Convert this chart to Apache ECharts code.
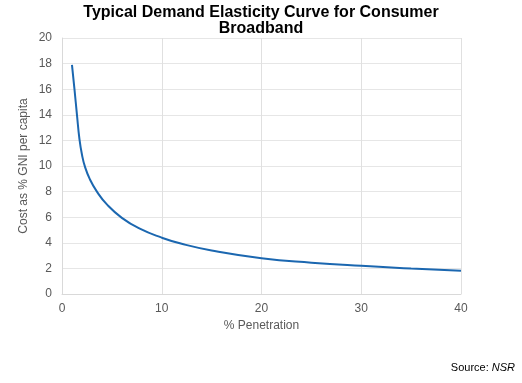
<!DOCTYPE html>
<html>
<head>
<meta charset="utf-8">
<script src="https://cdn.jsdelivr.net/npm/echarts@6/dist/echarts.min.js"></script>
<style>
html,body{margin:0;padding:0;background:#fff;}
#chart{width:522px;height:383px;}
</style>
</head>
<body>
<div id="chart"></div>
<script>
var penetration = [1, 1.25, 1.5, 1.75, 2, 2.3, 2.8, 3.5, 4.5, 6, 7.8, 10, 12, 15, 20, 25, 30, 35, 40];
var cost = [17.9, 16, 14, 12.1, 10.9, 9.95, 8.95, 8.0, 7.0, 5.95, 5.1, 4.4, 3.92, 3.4, 2.8, 2.45, 2.2, 2.0, 1.82];
var chartTitle = 'Typical Demand Elasticity Curve for Consumer\nBroadband';
var xName = '% Penetration';
var yName = 'Cost as % GNI per capita';

var font = '"Liberation Sans", Arial, sans-serif';
var data = penetration.map(function (x, i) { return [x, cost[i]]; });

var chart = echarts.init(document.getElementById('chart'), null, {renderer: 'canvas'});
chart.setOption({
  animation: false,
  backgroundColor: '#ffffff',
  title: [{
    text: chartTitle,
    left: 'center',
    top: 5,
    padding: 0,
    textStyle: {fontFamily: font, fontSize: 16, fontWeight: 'bold', color: '#000', lineHeight: 16}
  }, {
    text: '{a|Source: }{b|NSR}',
    right: 7,
    bottom: 10,
    padding: 0,
    textStyle: {
      rich: {
        a: {fontFamily: font, fontSize: 11, fontWeight: 'normal', color: '#000'},
        b: {fontFamily: font, fontSize: 11, fontWeight: 'normal', color: '#000', fontStyle: 'italic'}
      }
    }
  }],
  grid: {left: 62, right: 61, top: 38, bottom: 89, containLabel: false},
  xAxis: {
    type: 'value', min: 0, max: 40, interval: 10,
    name: xName, nameLocation: 'middle', nameGap: 26,
    nameMoveOverlap: false,
    nameTextStyle: {fontFamily: font, fontSize: 12, color: '#595959'},
    axisLine: {show: true, lineStyle: {color: '#d9d9d9'}},
    axisTick: {show: false},
    axisLabel: {fontFamily: font, fontSize: 12, color: '#595959', margin: 9},
    splitLine: {show: true, lineStyle: {color: '#e0e0e0'}}
  },
  yAxis: {
    type: 'value', min: 0, max: 20, interval: 2,
    name: yName, nameLocation: 'middle', nameGap: 32,
    nameMoveOverlap: false,
    nameTextStyle: {fontFamily: font, fontSize: 12, color: '#595959'},
    axisLine: {show: true, lineStyle: {color: '#d9d9d9'}},
    axisTick: {show: false},
    axisLabel: {fontFamily: font, fontSize: 12, color: '#595959', margin: 10},
    splitLine: {show: true, lineStyle: {color: '#e6e6e6'}}
  },
  series: [{
    type: 'line',
    data: data,
    smooth: 0.5,
    showSymbol: false,
    lineStyle: {color: '#1b67b0', width: 2}
  }]
});
</script>
</body>
</html>
